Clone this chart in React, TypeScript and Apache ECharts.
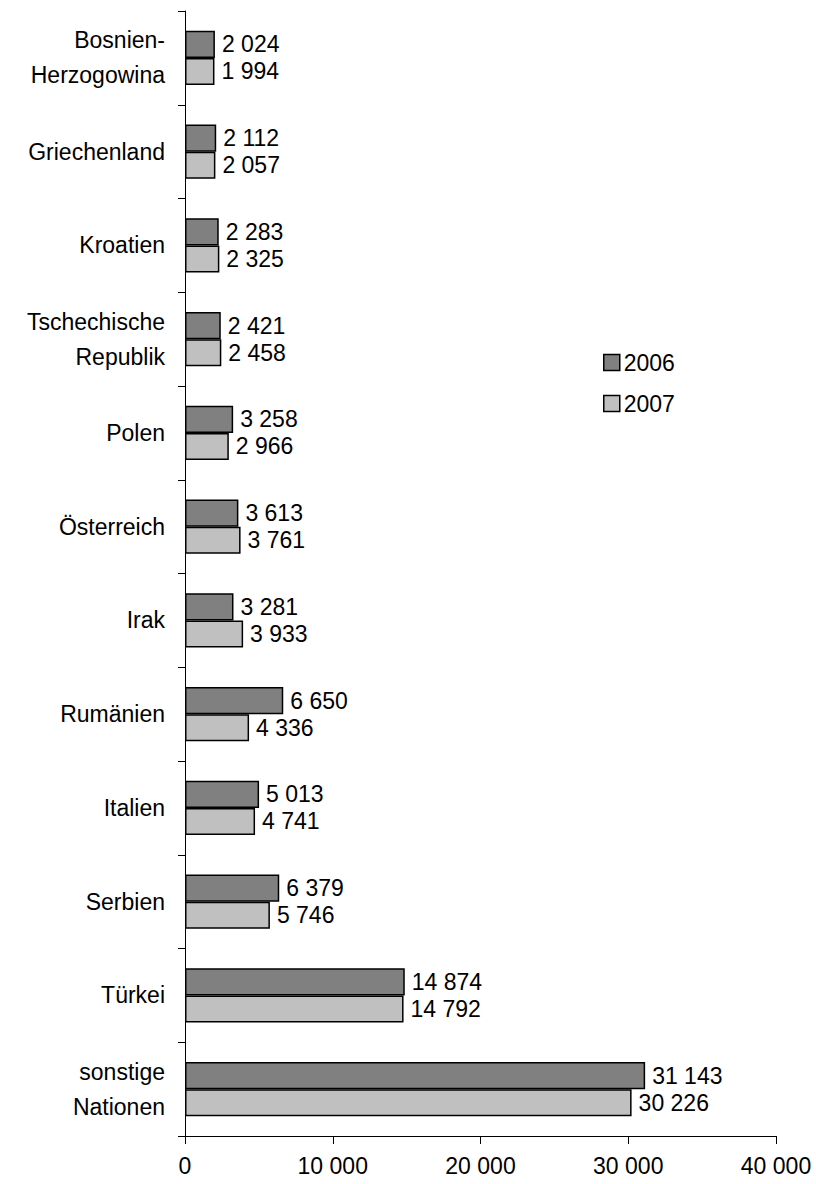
import React, { useEffect, useRef } from "react";
import * as echarts from "echarts";

const categories = [
  "Bosnien-\nHerzogowina",
  "Griechenland",
  "Kroatien",
  "Tschechische\nRepublik",
  "Polen",
  "Österreich",
  "Irak",
  "Rumänien",
  "Italien",
  "Serbien",
  "Türkei",
  "sonstige\nNationen",
];
const values2006 = [2024, 2112, 2283, 2421, 3258, 3613, 3281, 6650, 5013, 6379, 14874, 31143];
const values2007 = [1994, 2057, 2325, 2458, 2966, 3761, 3933, 4336, 4741, 5746, 14792, 30226];
const seriesNames = ["2006", "2007"];

const FONT = "'Liberation Sans', Arial, sans-serif";
const fmt = (v: number) => String(v).replace(/\B(?=(\d{3})+(?!\d))/g, " ");

export default function App() {
  const ref = useRef<HTMLDivElement>(null);
  useEffect(() => {
    if (!ref.current) return;
    const chart = echarts.init(ref.current, undefined, { renderer: "svg" });
    const label = {
      show: true,
      position: "right",
      distance: 7,
      color: "#000",
      fontSize: 23,
      fontFamily: FONT,
      formatter: (p: any) => fmt(p.value),
    };
    chart.setOption({
      animation: false,
      backgroundColor: "#fff",
      textStyle: { fontFamily: FONT },
      grid: { left: 185, right: 40, top: 11, bottom: 48, containLabel: false },
      legend: {
        orient: "vertical",
        left: 603,
        top: 351,
        padding: 0,
        itemWidth: 16,
        itemHeight: 16,
        itemGap: 18,
        icon: "rect",
        data: seriesNames,
        textStyle: { color: "#000", fontSize: 23, fontFamily: FONT, padding: [0, 0, 0, -1] },
        itemStyle: { borderColor: "#000", borderWidth: 1.5 },
      },
      xAxis: {
        type: "value",
        min: 0,
        max: 40000,
        interval: 10000,
        splitLine: { show: false },
        axisLine: { show: true, lineStyle: { color: "#000", width: 1 } },
        axisTick: { show: true, length: 8, lineStyle: { color: "#000" } },
        axisLabel: {
          color: "#000",
          fontSize: 23,
          fontFamily: FONT,
          margin: 18,
          formatter: (v: number) => fmt(v),
        },
      },
      yAxis: {
        type: "category",
        data: categories,
        inverse: true,
        axisLine: { show: true, lineStyle: { color: "#000", width: 1 } },
        axisTick: { show: true, length: 7, inside: false, lineStyle: { color: "#000" } },
        axisLabel: {
          color: "#000",
          fontSize: 23,
          fontFamily: FONT,
          margin: 20,
          lineHeight: 35,
          align: "right",
        },
      },
      series: [
        {
          name: seriesNames[0],
          type: "bar",
          data: values2006,
          barGap: "0%",
          barCategoryGap: "42%",
          itemStyle: { color: "#808080", borderColor: "#000", borderWidth: 1.5 },
          label,
        },
        {
          name: seriesNames[1],
          type: "bar",
          data: values2007,
          barGap: "0%",
          barCategoryGap: "42%",
          itemStyle: { color: "#c0c0c0", borderColor: "#000", borderWidth: 1.5 },
          label,
        },
      ],
    });
    return () => chart.dispose();
  }, []);
  return <div ref={ref} style={{ width: 816, height: 1184, position: "absolute", left: 0, top: 0 }} />;
}
